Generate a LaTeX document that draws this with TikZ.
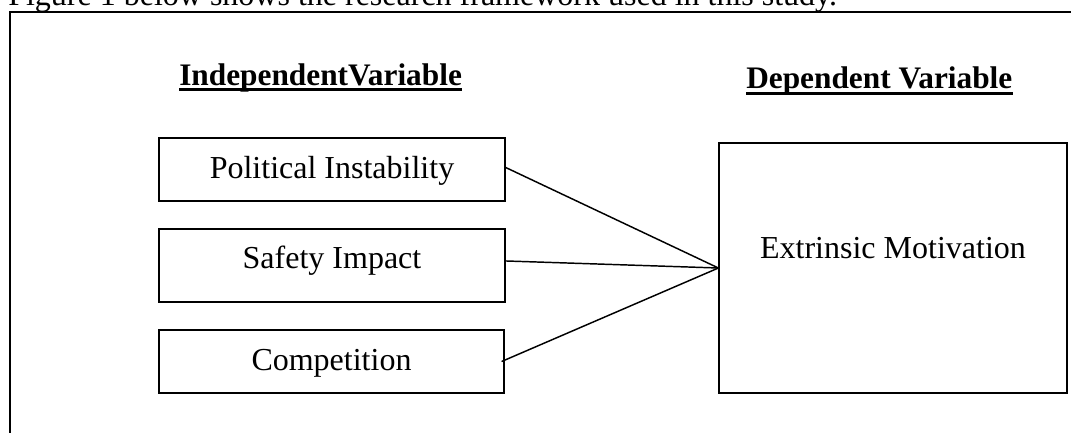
\documentclass[tikz,border=0pt]{standalone}
\usepackage{fontspec}
\setmainfont{Liberation Serif}
\begin{document}
\begin{tikzpicture}[x=0.75pt,y=-0.75pt,
  txt/.style={font=\fontsize{24}{28}\selectfont},
  head/.style={font=\fontsize{23.5}{28}\selectfont\bfseries, inner sep=0pt, anchor=base west},
  varbox/.style={draw, line width=0.9pt, inner sep=0pt, font=\fontsize{24}{28}\selectfont, text depth=0pt},
  frame/.style={line width=1.5pt},
  uline/.style={line width=2.3pt},
  conn/.style={line width=1.1pt}]
\useasboundingbox (0,0) rectangle (1071,432);
\clip (0,0) rectangle (1071,432);
% caption text and page frame
\node[txt, inner sep=0pt, anchor=base west] (cap) at (8,6) {Figure 1 below shows the research framework used in this study.};
\draw[frame] (10,440) -- (10,12) -- (1080,12);
% headings
\node[head] (ih) at (179,85) {IndependentVariable};
\node[head] (dh) at (746,88) {Dependent Variable};
\draw[uline] ([yshift=-3.4pt]ih.base west) -- ([yshift=-3.4pt]ih.base east);
\draw[uline] ([yshift=-4.1pt]dh.base west) -- ([yshift=-4.1pt]dh.base east);
% boxes
\node[varbox, minimum width=346*0.75pt, minimum height=63*0.75pt, text height=12.75pt] (pi) at (332,169.5) {Political Instability};
\node[varbox, minimum width=346*0.75pt, minimum height=73*0.75pt, text height=3.75pt] (si) at (332,265.5) {Safety Impact};
\node[varbox, minimum width=345*0.75pt, minimum height=63*0.75pt, text height=12.75pt] (co) at (331.5,361.5) {Competition};
\node[varbox, minimum width=348*0.75pt, minimum height=250*0.75pt, text height=0pt, text depth=15pt] (em) at (893,268) {Extrinsic Motivation};
% connectors
\draw[conn] ([xshift=-0.75pt,yshift=1.9pt]pi.east) -- (em.west);
\draw[conn] ([yshift=3.4pt]si.east) -- (em.west);
\draw[conn] ([xshift=-2.25pt]co.east) -- (em.west);
\end{tikzpicture}
\end{document}
